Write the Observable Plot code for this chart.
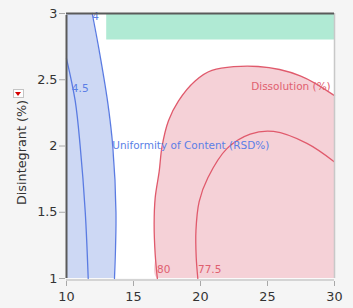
<!DOCTYPE html>
<html><head><meta charset="utf-8">
<script src="https://cdn.jsdelivr.net/npm/d3@7"></script>
<script src="https://cdn.jsdelivr.net/npm/@observablehq/plot@0.6"></script>
<style>
html,body{margin:0;padding:0;background:#f5f5f5;}
#wrap{position:relative;width:353px;height:308px;overflow:hidden;}
#wrap svg{display:block;}
#btn{position:absolute;left:13px;top:89px;width:9px;height:7px;border:1px solid #c4c4c4;background:#fff;}
#btn:after{content:"";position:absolute;left:1px;top:2px;border-left:3.5px solid transparent;border-right:3.5px solid transparent;border-top:4px solid #d40000;}
</style></head><body><div id="wrap"><div id="btn"></div></div>
<script>
// axes
const xTicks = [10, 15, 20, 25, 30];
const yTicks = [1, 1.5, 2, 2.5, 3];
const yLabel = "Disintegrant (%)";

// Uniformity of Content (RSD%) contours
const rsd4X  = [11.92, 12.44, 13.06, 13.45, 13.69, 13.58];
const rsd4Y  = [3.0, 2.72, 2.34, 2.0, 1.5, 1.0];
const rsd45X = [10.0, 10.65, 11.02, 11.40, 11.62];
const rsd45Y = [2.66, 2.34, 2.0, 1.5, 1.0];

// Dissolution (%) contours
const dis80X  = [16.78, 16.62, 16.54, 16.62, 16.92, 17.12, 17.61, 18.36, 19.60, 20.85, 24.3, 27.44, 30.0];
const dis80Y  = [1.0, 1.18, 1.41, 1.61, 1.81, 1.99, 2.19, 2.34, 2.49, 2.57, 2.60, 2.53, 2.38];
const dis775X = [19.80, 19.68, 19.66, 19.90, 20.55, 21.97, 23.71, 25.45, 27.94, 30.0];
const dis775Y = [1.0, 1.16, 1.36, 1.58, 1.76, 1.98, 2.09, 2.11, 2.02, 1.88];

// green constraint box
const boxX = [13, 30];
const boxY = [2.8, 3];

// contour labels
const labText  = ["4", "4.5", "Uniformity of Content (RSD%)", "Dissolution (%)", "80", "77.5"];
const labX     = [11.92, 10.40, 13.41, 23.78, 16.75, 19.81];
const labY     = [2.974, 2.435, 2.003, 2.451, 1.070, 1.070];
const labGroup = ["b", "b", "b", "r", "r", "r"];

const pts = (xs, ys) => xs.map((x, i) => ({x, y: ys[i]}));
const rsd4 = pts(rsd4X, rsd4Y);
const rsd45 = pts(rsd45X, rsd45Y);
const dis80 = pts(dis80X, dis80Y);
const dis775 = pts(dis775X, dis775Y);
const redPoly = [{x: xTicks[xTicks.length - 1], y: yTicks[0]}, ...dis80];
const labels = labText.map((t, i) => ({t, x: labX[i], y: labY[i], g: labGroup[i]}));

const blueFill = "#cdd8f4", blueLine = "#5a7be2", blueText = "#5b7fe6";
const pinkFill = "#f5d1d7", redLine = "#e05a6c", redText = "#e0606f";

const chart = Plot.plot({
  width: 353, height: 308,
  marginLeft: 66, marginRight: 19, marginTop: 13, marginBottom: 30,
  x: {domain: [10, 30]},
  y: {domain: [1, 3]},
  style: {fontFamily: "DejaVu Sans", fontSize: "12.8px", background: "transparent", color: "#333"},
  marks: [
    Plot.frame({fill: "white", stroke: "none"}),
    Plot.areaX(rsd4, {y: "y", x1: 10, x2: "x", fill: blueFill, curve: "catmull-rom"}),
    Plot.line(redPoly, {x: "x", y: "y", fill: pinkFill, stroke: "none", curve: "catmull-rom", clip: true}),
    Plot.rect([0], {x1: boxX[0], x2: boxX[1], y1: boxY[0], y2: boxY[1], fill: "#b0ead4"}),
    Plot.line(rsd4, {x: "x", y: "y", stroke: blueLine, strokeWidth: 1.3, curve: "catmull-rom"}),
    Plot.line(rsd45, {x: "x", y: "y", stroke: blueLine, strokeWidth: 1.3, curve: "catmull-rom"}),
    Plot.line(dis80, {x: "x", y: "y", stroke: redLine, strokeWidth: 1.3, curve: "catmull-rom"}),
    Plot.line(dis775, {x: "x", y: "y", stroke: redLine, strokeWidth: 1.3, curve: "catmull-rom"}),
    Plot.text(labels, {x: "x", y: "y", text: "t", textAnchor: "start", fontSize: 10.5,
      fill: d => d.g === "b" ? blueText : redText}),
    Plot.ruleX([30], {stroke: "#c8c8c8", strokeWidth: 1.5}),
    Plot.ruleY([1], {stroke: "#c8c8c8", strokeWidth: 1.5, dy: 1.5}),
    Plot.ruleX([10], {stroke: "#5a5a5a", strokeWidth: 2, y1: 1, y2: 3, insetBottom: -2}),
    Plot.ruleY([3], {stroke: "#5a5a5a", strokeWidth: 2, x1: 10, x2: 30}),
    Plot.axisX({ticks: xTicks, tickFormat: d => `${d}`, tickSize: 5, dy: 3, tickPadding: 5, stroke: "#a8a8a8", fill: "#333", label: null}),
    Plot.axisY({ticks: yTicks, tickFormat: d => `${d}`, tickSize: 6, dx: -1, tickPadding: 2, stroke: "#a8a8a8", fill: "#333", label: null}),
    Plot.text([yLabel], {frameAnchor: "left", textAnchor: "middle", dx: -45, dy: 6.5, rotate: -90, fontSize: 12.8, fill: "#333"})
  ]
});
document.getElementById("wrap").prepend(chart);
</script>
</body></html>
